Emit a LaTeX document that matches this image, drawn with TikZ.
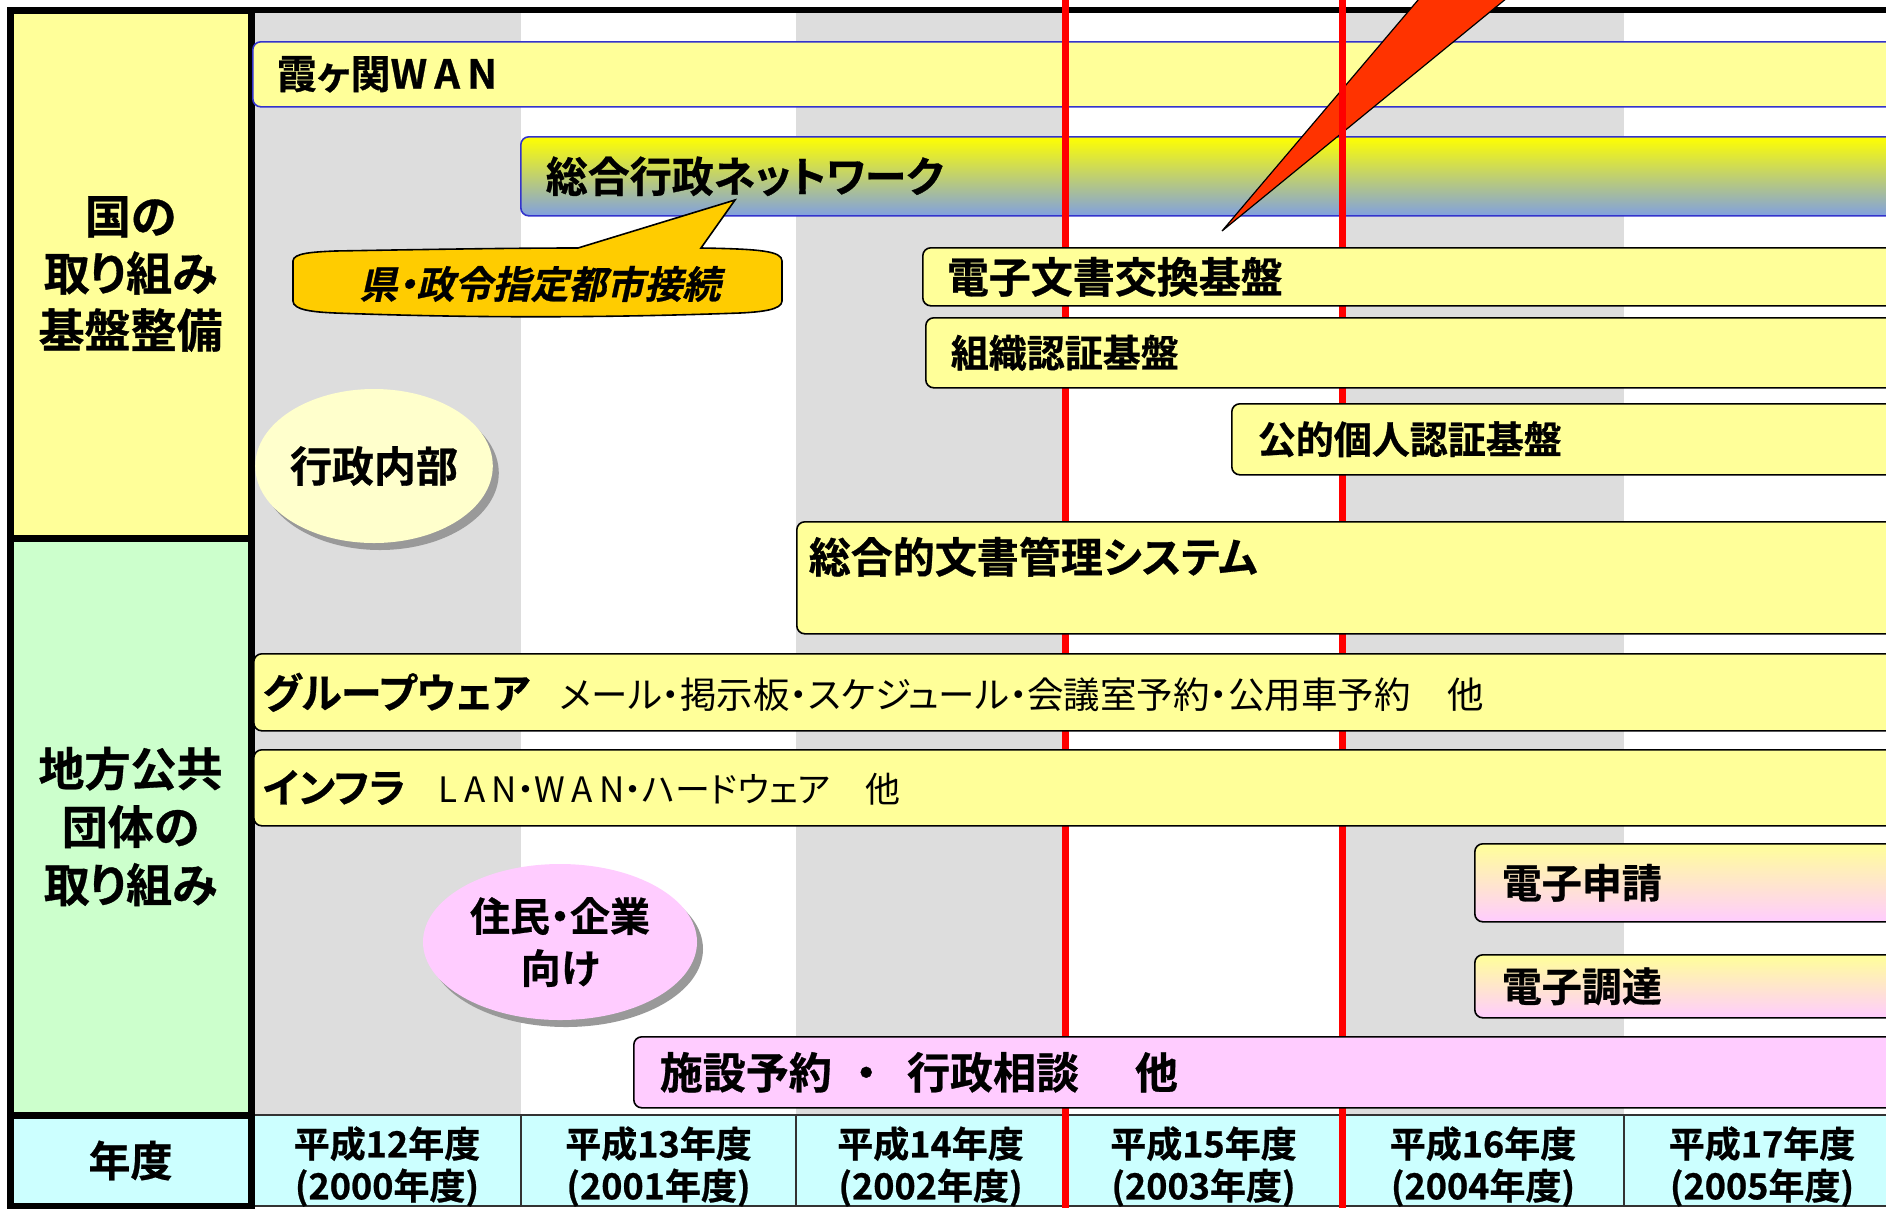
\documentclass[tikz,border=0pt]{standalone}
\usepackage{fontspec}
\setmainfont{Noto Sans CJK JP}[BoldFont={Noto Sans CJK JP Bold}, BoldFeatures={FakeBold=0.7}, RawFeature={+palt}]
\newfontfamily\slantfont{Noto Sans CJK JP Bold}[FakeSlant=0.22, FakeBold=0.7, RawFeature={+palt}]
\newcommand{\fsz}[2]{\fontsize{#1}{#2}\selectfont}
\newcommand{\spaced}[1]{{\addfontfeature{LetterSpace=18}#1}}
\definecolor{paleyellow}{RGB}{255,255,153}
\definecolor{palegreen}{RGB}{204,255,204}
\definecolor{palecyan}{RGB}{204,255,255}
\definecolor{palepink}{RGB}{255,204,255}
\definecolor{stripegray}{RGB}{221,221,221}
\definecolor{barblue}{RGB}{51,51,204}
\definecolor{netblue}{RGB}{128,160,224}
\definecolor{netyellow}{RGB}{255,255,0}
\definecolor{calloutgold}{RGB}{255,204,0}
\definecolor{creamy}{RGB}{255,255,204}
\definecolor{flashred}{RGB}{255,51,0}
\usetikzlibrary{shapes.geometric,shadows}

\begin{document}
\begin{tikzpicture}[x=1pt, y=-1pt,
    bar/.style={draw=black, line width=1.6pt, rounded corners=8pt, fill=paleyellow, anchor=north west, align=left, font=\bfseries},
    sidecell/.style={draw=black, line width=7pt, minimum width=241pt, inner sep=0pt, align=center},
    yearcell/.style={draw=black!80, line width=1.5pt, fill=palecyan, minimum height=91pt, inner sep=0pt, align=center, font=\bfseries\fsz{36}{42}},
    redline/.style={red, line width=7pt},
    blob/.style={ellipse, inner sep=0pt, align=center, drop shadow={shadow xshift=6pt, shadow yshift=-7pt, fill=black!40, opacity=1}}]
    \useasboundingbox (0,0) rectangle (1886,1208);
    \clip (0,0) rectangle (1886,1208);

    % Year stripes
    \foreach \xa/\xb in {253/521, 796/1065, 1342/1624}
        \fill[stripegray] (\xa,10) rectangle (\xb,1115);

    % Year row
    \foreach \xa/\xb/\era/\ad in {253/521/12/2000, 521/796/13/2001, 796/1065/14/2002, 1065/1342/15/2003, 1342/1624/16/2004, 1624/1900/17/2005}
        \node[yearcell, minimum width=\xb pt-\xa pt] (year\era) at ({(\xa+\xb)/2}, 1160.5) {};
    \foreach \xa/\xb/\era/\ad in {253/521/12/2000, 521/796/13/2001, 796/1065/14/2002, 1065/1342/15/2003, 1342/1624/16/2004, 1624/1900/17/2005}
        \node[align=center, font=\bfseries\fsz{36}{42}] (label\era) at ([yshift=-6pt]year\era) {平成\era 年度\\(\ad 年度)};

    % Left column
    \node[sidecell, fill=paleyellow, minimum height=528pt, font=\bfseries\fsz{46}{57}] (national) at (130.5, 274) {国の\\取り組み\\基盤整備};
    \node[sidecell, fill=palegreen, minimum height=577pt, font=\bfseries\fsz{46}{58}] (local) at (130.5, 826.5) {地方公共\\団体の\\取り組み};
    \node[sidecell, fill=palecyan, minimum height=91pt, font=\bfseries\fsz{42}{42}] (fiscal) at (130.5, 1160.5) {年度};
    \draw[line width=6pt] (10,10) -- (1886,10);

    % Networks
    \node[bar, draw=barblue, inner xsep=24pt, text width=1600pt, minimum height=65pt] (wan) at (252,41) {\fsz{40}{40}霞ヶ関\spaced{WAN}};
    \node[bar, draw=barblue, top color=netyellow, bottom color=netblue, inner xsep=25pt, text width=1330pt, minimum height=79pt] (lgwan) at (520,136) {\fsz{42}{42}総合行政ネットワーク};

    % Flash
    \filldraw[fill=flashred, draw=black, line width=1.2pt] (1222,231) -- (1435,-20) -- (1529,-20) -- cycle;

    % Milestones
    \draw[redline] (1065,0) -- (1065,1208);
    \draw[redline] (1342,0) -- (1342,1208);

    % Government infrastructure
    \node[bar, inner xsep=24pt, text width=930pt, minimum height=58pt] (exchange) at (922,247) {\fsz{42}{42}電子文書交換基盤};
    \node[bar, inner xsep=25pt, text width=925pt, minimum height=70pt] (orgauth) at (925,317) {\fsz{38}{38}組織認証基盤};
    \node[bar, inner xsep=26pt, text width=617pt, minimum height=71pt] (pubauth) at (1231,403) {\fsz{38}{38}公的個人認証基盤};
    \node[bar, inner xsep=12pt, inner ysep=0pt, text width=1080pt, text height=51pt, text depth=61pt] (docsys) at (796,521) {\fsz{42}{42}総合的文書管理システム};

    % Local government
    \node[bar, inner xsep=9pt, text width=1629pt, minimum height=77pt] (groupware) at (253,653) {\fsz{41}{41}グループウェア\hspace{30pt}\mdseries\fsz{36.5}{36.5}メール・掲示板・スケジュール・会議室予約・公用車予約　他};
    \node[bar, inner xsep=9pt, text width=1629pt, minimum height=76pt] (infra) at (253,749) {\fsz{40}{40}インフラ\hspace{33pt}\mdseries\fsz{35}{35}\spaced{LAN}・\spaced{WAN}・ハードウェア　他};
    \node[bar, top color=paleyellow, bottom color=palepink, inner xsep=27pt, text width=372pt, minimum height=78pt] (apply) at (1474,843) {\fsz{40}{40}電子申請};
    \node[bar, top color=paleyellow, bottom color=palepink, inner xsep=27pt, text width=372pt, minimum height=63pt] (procure) at (1474,954) {\fsz{40}{40}電子調達};
    \node[bar, fill=palepink, inner xsep=26pt, text width=1215pt, minimum height=71pt] (facility) at (633,1036) {\fsz{43}{43}施設予約\hspace{0.55em}・\hspace{0.7em}行政相談\hspace{1.3em}他};

    % Scope labels
    \node[blob, fill=creamy, minimum width=226pt, minimum height=154pt, font=\bfseries\fsz{42}{42}] (internal) at (374,466) {行政内部};
    \node[blob, fill=palepink, minimum width=274pt, minimum height=156pt, font=\bfseries\fsz{40}{52}] (citizens) at (560,942) {住民・企業\\向け};

    % Callout
    \filldraw[fill=calloutgold, draw=black, line width=1.6pt] (578,248) -- (735,200) -- (701,248)
        .. controls (760,249) and (782,251) .. (782,261) -- (782,301)
        .. controls (782,310) and (760,312) .. (740,313)
        .. controls (600,318) and (470,318) .. (335,313)
        .. controls (313,312) and (293,310) .. (293,301) -- (293,261)
        .. controls (293,253) and (313,252) .. (335,251)
        .. controls (450,249) and (520,248) .. (578,248) -- cycle;
    \node[font=\slantfont\fsz{38}{38}] (prefecture) at (540,284) {県・政令指定都市接続};
\end{tikzpicture}
\end{document}
